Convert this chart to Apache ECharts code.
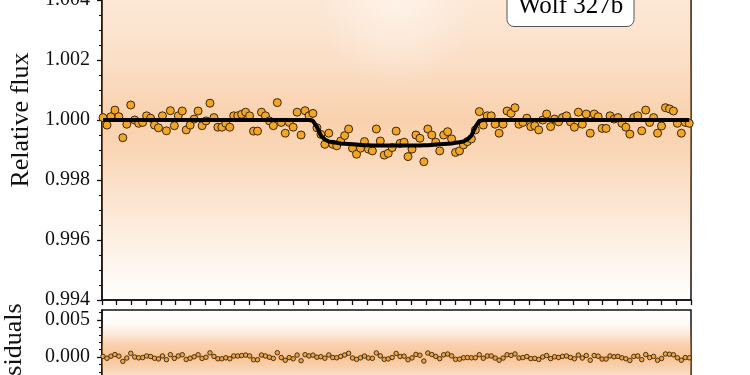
<!DOCTYPE html>
<html>
<head>
<meta charset="utf-8">
<script src="https://cdn.jsdelivr.net/npm/echarts@6/dist/echarts.min.js"></script>
<style>html,body{margin:0;padding:0;background:#fff}#c{width:750px;height:375px}</style>
</head>
<body>
<div id="c"></div>
<script>
// ---- data ----
const targetName = 'Wolf 327b';
const binStart = -1.993;   // time of first bin (hours from mid-transit)
const binStep = 0.0269;    // bin width (hours)
const relFlux = [
  1.00008, 0.99983, 1.00011, 1.00033, 1.00011, 0.99941, 0.99986, 1.00050, 1.00000, 0.99989,
  0.99992, 1.00014, 1.00006, 0.99983, 0.99974, 1.00014, 0.99964, 1.00031, 0.99981, 1.00014,
  1.00030, 0.99967, 0.99983, 1.00003, 1.00030, 0.99981, 0.99997, 1.00056, 1.00008, 0.99976,
  0.99976, 0.99989, 0.99976, 1.00014, 1.00014, 1.00019, 1.00026, 1.00014,
  0.99963, 0.99963, 1.00026, 1.00014, 0.99997, 0.99981, 1.00058, 0.99992, 0.99956, 0.99992,
  0.99976, 1.00026, 0.99950, 1.00031, 1.00014, 1.00022, 0.99974, 0.99952, 0.99919, 0.99956,
  0.99919, 0.99914, 0.99930, 0.99948, 0.99970, 0.99906, 0.99886, 0.99906, 0.99928, 0.99903,
  0.99897, 0.99970, 0.99930, 0.99883, 0.99889, 0.99908, 0.99963,
  0.99922, 0.99926, 0.99878, 0.99903, 0.99950, 0.99939, 0.99861, 0.99970, 0.99950, 0.99926,
  0.99897, 0.99950, 0.99961, 0.99937, 0.99892, 0.99897, 0.99917, 0.99928, 0.99937, 0.99967,
  1.00028, 0.99983, 1.00014, 1.00014, 0.99986, 0.99956, 0.99986, 1.00030, 1.00022, 1.00041,
  0.99986, 0.99992, 1.00006, 0.99978, 0.99981, 0.99967, 1.00000,
  1.00020, 0.99978, 1.00003, 0.99994, 1.00008, 1.00014, 0.99994, 0.99976, 1.00026, 0.99986,
  1.00020, 0.99956, 1.00020, 1.00011, 0.99972, 0.99972, 1.00014, 1.00003, 1.00008, 0.99989,
  0.99976, 0.99953, 1.00008, 1.00014, 0.99964, 1.00033, 0.99992, 1.00008, 0.99956, 0.99980,
  1.00041, 1.00037, 1.00030, 0.99989, 0.99956, 0.99992, 0.99989
];
const modelFlux = [
  1, 1, 1, 1, 1, 1, 1, 1, 1, 1,
  1, 1, 1, 1, 1, 1, 1, 1, 1, 1,
  1, 1, 1, 1, 1, 1, 1, 1, 1, 1,
  1, 1, 1, 1, 1, 1, 1, 1, 1, 1,
  1, 1, 1, 1, 1, 1, 1, 1, 1, 1,
  1, 1, 1, 0.99997, 0.99977, 0.99948, 0.99935, 0.99928, 0.99926, 0.99924,
  0.99922, 0.99921, 0.99920, 0.99919, 0.99918, 0.99917, 0.99916, 0.99916, 0.99915, 0.99915,
  0.99915, 0.99915, 0.99915, 0.99915, 0.99915, 0.99915, 0.99915, 0.99915, 0.99915, 0.99915,
  0.99915, 0.99916, 0.99916, 0.99917, 0.99918, 0.99919, 0.99920, 0.99921, 0.99922, 0.99924,
  0.99926, 0.99928, 0.99935, 0.99948, 0.99977, 0.99997, 1, 1, 1, 1,
  1, 1, 1, 1, 1, 1, 1, 1, 1, 1,
  1, 1, 1, 1, 1, 1, 1, 1, 1, 1,
  1, 1, 1, 1, 1, 1, 1, 1, 1, 1,
  1, 1, 1, 1, 1, 1, 1, 1, 1, 1,
  1, 1, 1, 1, 1, 1, 1, 1, 1
];
const fluxAxisRange = [0.994, 1.006];
const fluxTickStep = 0.002;
const resAxisRange = [-0.00554, 0.00635];
const resTickValues = [-0.005, 0.000, 0.005];
const resMinorTickValues = [-0.004, -0.003, -0.002, -0.001, 0.001, 0.002, 0.003, 0.004, 0.006];
const timeRange = [-2, 2];
const timeTickStep = 0.1;

// ---- build ----
const FONT = '"Liberation Serif", "DejaVu Serif", serif';
const INK = '#111';
const times = relFlux.map((_, i) => binStart + i * binStep);
const fluxPts = relFlux.map((f, i) => [times[i], f]);
const modelPts = modelFlux.map((m, i) => [times[i], m]);
const resPts = relFlux.map((f, i) => [times[i], f - modelFlux[i]]);

function orange(stops) {
  return {
    type: 'linear', x: 0, y: 0, x2: 0, y2: 1,
    colorStops: stops.map(s => ({ offset: s[0], color: 'rgba(242,150,70,' + s[1] + ')' }))
  };
}
const bandGrad = orange([[0, 0.14], [0.167, 0.22], [0.333, 0.3], [0.5, 0.44], [0.6, 0.38], [0.667, 0.3], [0.833, 0.15], [0.95, 0.05], [1, 0.02]]);
const resGrad = orange([[0, 0], [0.16, 0.05], [0.27, 0.2], [0.38, 0.42], [0.53, 0.56], [0.67, 0.42], [0.78, 0.2], [0.9, 0.06], [1, 0.02]]);
const transitGlow = {
  type: 'radial', x: 0.5, y: 0.42, r: 0.5,
  colorStops: [
    { offset: 0, color: 'rgba(255,255,255,0.42)' },
    { offset: 0.5, color: 'rgba(255,255,255,0.25)' },
    { offset: 1, color: 'rgba(255,255,255,0)' }
  ]
};

const axisLineStyle = { color: INK, width: 1.5 };
const tickStyle = { color: INK, width: 1.3 };
const labelStyle = { fontFamily: FONT, fontSize: 20, color: INK, margin: 12 };

const chart = echarts.init(document.getElementById('c'), null, { renderer: 'canvas' });
chart.setOption({
  animation: false,
  backgroundColor: '#fff',
  grid: [
    { left: 102, width: 589, top: -60, height: 360, show: true, borderColor: INK, borderWidth: 1.5, backgroundColor: 'transparent', containLabel: false, outerBoundsMode: 'none' },
    { left: 102, width: 589, top: 310, height: 88, show: true, borderColor: INK, borderWidth: 1.5, backgroundColor: 'transparent', containLabel: false, outerBoundsMode: 'none' }
  ],
  xAxis: [
    { type: 'value', gridIndex: 0, min: timeRange[0], max: timeRange[1], interval: timeTickStep,
      axisLine: { onZero: false, lineStyle: axisLineStyle }, axisTick: { length: 5, lineStyle: tickStyle },
      axisLabel: { show: false }, splitLine: { show: false } },
    { type: 'value', gridIndex: 1, min: timeRange[0], max: timeRange[1], interval: timeTickStep,
      axisLine: { onZero: false, lineStyle: axisLineStyle }, axisTick: { length: 5, lineStyle: tickStyle },
      axisLabel: { show: false }, splitLine: { show: false } }
  ],
  yAxis: [
    { type: 'value', gridIndex: 0, min: fluxAxisRange[0], max: fluxAxisRange[1], interval: fluxTickStep,
      name: 'Relative flux', nameLocation: 'middle', nameGap: 59, nameRotate: 90,
      nameTextStyle: { fontFamily: FONT, fontSize: 26, color: INK },
      axisLine: { show: true, onZero: false, lineStyle: axisLineStyle },
      axisTick: { show: true, length: 5, lineStyle: tickStyle },
      minorTick: { show: true, splitNumber: 4, length: 3, lineStyle: { color: INK, width: 1.1 } },
      axisLabel: Object.assign({ formatter: v => v.toFixed(3) }, labelStyle),
      splitLine: { show: false }, minorSplitLine: { show: false } },
    { type: 'value', gridIndex: 1, min: resAxisRange[0], max: resAxisRange[1],
      name: 'Residuals', nameLocation: 'middle', nameGap: 74, nameRotate: 90,
      nameTextStyle: { fontFamily: FONT, fontSize: 26, color: INK },
      axisLine: { show: true, onZero: false, lineStyle: axisLineStyle },
      axisTick: { show: true, length: 5, lineStyle: tickStyle, customValues: resTickValues },
      axisLabel: Object.assign({ formatter: v => v.toFixed(3), customValues: resTickValues }, labelStyle),
      splitLine: { show: false } },
    { type: 'value', gridIndex: 1, min: resAxisRange[0], max: resAxisRange[1], position: 'left', offset: 0,
      axisLine: { show: false, onZero: false },
      axisTick: { show: true, length: 3, lineStyle: { color: INK, width: 1.1 }, customValues: resMinorTickValues },
      axisLabel: { show: false, customValues: resMinorTickValues },
      splitLine: { show: false } }
  ],
  series: [
    { type: 'scatter', xAxisIndex: 0, yAxisIndex: 0, data: fluxPts, symbol: 'circle', symbolSize: 8, z: 3,
      itemStyle: { color: '#F3A626', borderColor: '#3a2606', borderWidth: 1, opacity: 1 },
      markArea: { silent: true, z: 1, label: { show: false },
        data: [
          [{ xAxis: timeRange[0], yAxis: fluxAxisRange[1], itemStyle: { color: bandGrad } }, { xAxis: timeRange[1], yAxis: fluxAxisRange[0] }],
          [{ xAxis: -0.85, yAxis: fluxAxisRange[1], itemStyle: { color: transitGlow } }, { xAxis: 0.85, yAxis: 1.0008 }]
        ] } },
    { type: 'line', xAxisIndex: 0, yAxisIndex: 0, data: modelPts, showSymbol: false, z: 4,
      lineStyle: { color: '#000', width: 4 } },
    { type: 'scatter', xAxisIndex: 1, yAxisIndex: 1, data: resPts, symbol: 'circle', symbolSize: 4.5, z: 3,
      itemStyle: { color: '#EBA24A', borderColor: '#3a2606', borderWidth: 0.9, opacity: 1 },
      markArea: { silent: true, z: 1, label: { show: false },
        data: [[{ xAxis: timeRange[0], yAxis: resAxisRange[1], itemStyle: { color: resGrad } }, { xAxis: timeRange[1], yAxis: resAxisRange[0] }]] } }
  ],
  graphic: [
    { type: 'rect', z: 100, shape: { x: 507, y: -20, width: 127, height: 46.5, r: 7 },
      style: { fill: '#fff', stroke: '#555', lineWidth: 1 } },
    { type: 'text', z: 101, x: 570.5, y: 6,
      style: { text: targetName, font: '25px "Liberation Serif", serif', fill: '#000',
        align: 'center', verticalAlign: 'middle', textAlign: 'center', textVerticalAlign: 'middle' } }
  ]
});
</script>
</body>
</html>
